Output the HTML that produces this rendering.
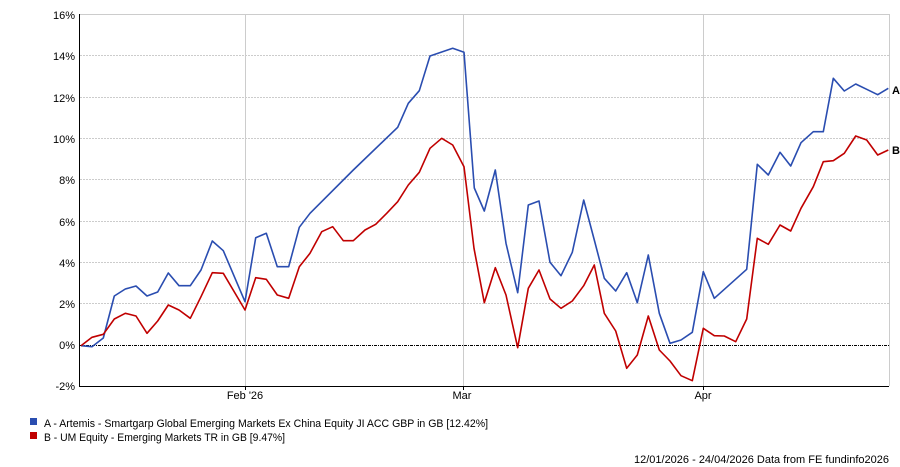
<!DOCTYPE html>
<html><head><meta charset="utf-8"><style>
html,body{margin:0;padding:0;background:#fff;width:900px;height:467px;overflow:hidden}
svg text{font-family:"Liberation Sans",sans-serif;font-size:11px;fill:#000}
</style></head><body>
<svg width="900" height="467" viewBox="0 0 900 467">
<g stroke="#ccc" stroke-width="1" stroke-dasharray="2,1">
<line x1="80" y1="55.5" x2="889" y2="55.5"/><line x1="80" y1="97.5" x2="889" y2="97.5"/>
<line x1="80" y1="138.5" x2="889" y2="138.5"/><line x1="80" y1="179.5" x2="889" y2="179.5"/>
<line x1="80" y1="221.5" x2="889" y2="221.5"/><line x1="80" y1="262.5" x2="889" y2="262.5"/>
<line x1="80" y1="303.5" x2="889" y2="303.5"/>
</g>
<g stroke="#ccc" stroke-width="1">
<line x1="80" y1="14.5" x2="889" y2="14.5"/><line x1="889.5" y1="14" x2="889.5" y2="386"/>
<line x1="245.5" y1="14" x2="245.5" y2="386"/><line x1="463.5" y1="14" x2="463.5" y2="386"/><line x1="703.5" y1="14" x2="703.5" y2="386"/>
</g>
<line x1="80" y1="345.5" x2="889" y2="345.5" stroke="#000" stroke-width="1" stroke-dasharray="3,1,1,1"/>
<line x1="79.5" y1="14" x2="79.5" y2="386.5" stroke="#000"/>
<line x1="79" y1="386.5" x2="889" y2="386.5" stroke="#000"/>
<g stroke="#000"><line x1="245.5" y1="386" x2="245.5" y2="390"/><line x1="463.5" y1="386" x2="463.5" y2="390"/><line x1="703.5" y1="386" x2="703.5" y2="390"/></g>
<g text-anchor="end">
<text x="75" y="19">16%</text><text x="75" y="60">14%</text><text x="75" y="102">12%</text><text x="75" y="143">10%</text>
<text x="75" y="184">8%</text><text x="75" y="226">6%</text><text x="75" y="267">4%</text><text x="75" y="308">2%</text>
<text x="75" y="349">0%</text><text x="75" y="390">-2%</text>
</g>
<g text-anchor="middle"><text x="245" y="399">Feb '26</text><text x="462" y="399">Mar</text><text x="703" y="399">Apr</text></g>
<polyline fill="none" stroke="#2a4db0" stroke-width="1.6" stroke-linejoin="round" points="81,345.7 92,346.7 103.3,338 114.3,296 125.3,289 136,286 147,296 157.7,292 168.3,273 179,285.7 190.3,285.7 201,270 212.3,241 223.3,250.7 245,301.7 255.7,237.7 266.3,233.3 277.3,266.7 288.7,266.7 299.3,227.3 310,213.3 353.3,170 397.7,127.3 408.3,103.3 419.3,90.7 430,56 441,52.3 452.7,48.3 464,52.3 474.3,188 484.3,211 495.3,170 506,243.3 517.7,292.7 528.3,205 539,201 550,262.3 561,275.7 572.3,252.3 583.7,200 594.3,240 604.3,278.3 615.7,291 626.7,272.7 637.3,302.7 648.3,255 659.3,313.3 670,343.3 681,340 692.3,332.3 703.3,271.7 714.3,298.3 746.7,269.3 757.3,164.3 768.3,175 780,152.3 790.7,166 801,142.7 813.3,131.7 823.3,131.7 833.3,78.3 844.3,91 855.7,84 866.7,89.3 877.7,94.7 888.3,88.3"/>
<polyline fill="none" stroke="#c00000" stroke-width="1.6" stroke-linejoin="round" points="81,345.7 92,337.3 103.3,334.3 114.3,319 125.3,313.3 136,316 147,333.3 157.7,321 168.3,305 179,310 190.3,318.3 201,296.7 212.3,272.7 223.3,273.3 245,310 255.7,277.7 266.3,279.3 277.3,295 288.7,298.3 299.3,266.7 310,253.3 321.7,231.7 332.7,226.7 343.3,240.7 353.3,240.7 365,230 375.7,224.3 386.7,213.3 397.7,201.7 408.3,185 419.3,172.3 430,148.3 441.7,138.3 452.7,145 464,166.7 474,248.3 484.3,302.7 495.3,267.7 506,295 517.7,347.7 528.3,288.3 539,270 550,299 561,308.3 572.3,301 583.7,285.7 594.3,265 604.3,313.3 615.7,331 626.7,368.3 637.3,355 648.3,316 659.3,350 670,361 681,375.7 692.3,380.7 703.3,328.3 714.3,335.7 724.3,336 735.7,341.7 746.7,319 757.3,238.3 768.3,244.3 780,225 790.7,231 801,208.3 813.3,186.7 823.3,161.7 833.3,160.7 844.3,153.3 855.7,136 866.7,140 877.7,155 888.3,150"/>
<text x="892" y="94" font-weight="bold">A</text>
<text x="892" y="154" font-weight="bold">B</text>
<rect x="30" y="418" width="7" height="7" fill="#2a4db0"/>
<rect x="30" y="432" width="7" height="7" fill="#c00000"/>
<text x="44" y="427" textLength="444" lengthAdjust="spacingAndGlyphs">A - Artemis - Smartgarp Global Emerging Markets Ex China Equity JI ACC GBP in GB [12.42%]</text>
<text x="44" y="441" textLength="241" lengthAdjust="spacingAndGlyphs">B - UM Equity - Emerging Markets TR in GB [9.47%]</text>
<text x="889" y="463" text-anchor="end">12/01/2026 - 24/04/2026 Data from FE fundinfo2026</text>
</svg>
</body></html>
